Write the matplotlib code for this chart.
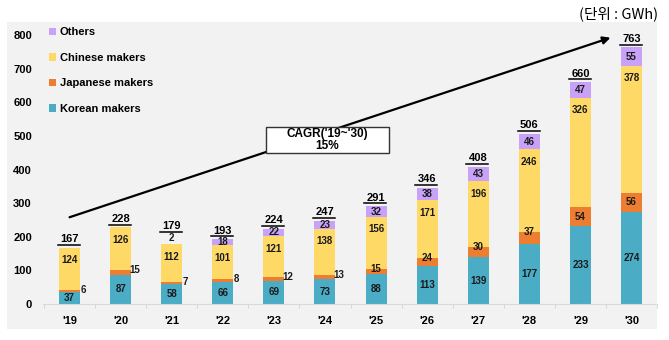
import matplotlib
matplotlib.use("Agg")
import matplotlib.pyplot as plt
import matplotlib.transforms as mtransforms
from matplotlib.patches import Patch, Rectangle
import numpy as np

plt.rcParams['font.family'] = ['Liberation Sans', 'DejaVu Sans']

years = ["'19", "'20", "'21", "'22", "'23", "'24", "'25", "'26", "'27", "'28", "'29", "'30"]
korean = [37, 87, 58, 66, 69, 73, 88, 113, 139, 177, 233, 274]
japanese = [6, 15, 7, 8, 12, 13, 15, 24, 30, 37, 54, 56]
chinese = [124, 126, 112, 101, 121, 138, 156, 171, 196, 246, 326, 378]
others = [0, 0, 2, 18, 22, 23, 32, 38, 43, 46, 47, 55]
totals = [167, 228, 179, 193, 224, 247, 291, 346, 408, 506, 660, 763]
cagr_text = "CAGR('19~'30)\n15%"
unit_text = "(단위 : GWh)"

c_kor = '#4bacc6'
c_jap = '#ed7d31'
c_chn = '#ffd966'
c_oth = '#c8a2f8'

fig = plt.figure(figsize=(6.69, 3.40), dpi=100)
fig.patch.set_facecolor('white')
# light gray panel behind the whole chart
fig.add_artist(Rectangle((7 / 669, 1 - 329 / 340), 650 / 669, 307 / 340,
                         transform=fig.transFigure, facecolor='#f2f2f2',
                         edgecolor='none', zorder=-10))

ax = fig.add_axes([43 / 669, 1 - 304 / 340, 614 / 669, 269 / 340])
ax.set_facecolor('none')

x = np.arange(len(years))
w = 0.41
kor = np.array(korean)
jap = np.array(japanese)
chn = np.array(chinese)
oth = np.array(others)

ax.bar(x, kor, w, color=c_kor, zorder=2)
ax.bar(x, jap, w, bottom=kor, color=c_jap, zorder=2)
ax.bar(x, chn, w, bottom=kor + jap, color=c_chn, zorder=2)
ax.bar(x, oth, w, bottom=kor + jap + chn, color=c_oth, zorder=2)

lab = dict(fontsize=7, fontweight='bold', color='#1a1a1a', zorder=5)

for i in range(len(years)):
    # korean: centred in segment
    ax.text(x[i], kor[i] / 2, str(korean[i]), ha='center', va='center', **lab)
    # japanese: beside the bar when thin, inside otherwise
    top_j = kor[i] + jap[i]
    if i < 6:
        ax.text(x[i] + 0.27, top_j, str(japanese[i]), ha='center', va='center', **lab)
    else:
        yj = top_j if japanese[i] < 50 else kor[i] + jap[i] / 2
        ax.text(x[i], yj, str(japanese[i]), ha='center', va='center', **lab)
    # chinese: near the top of its segment
    top_c = top_j + chn[i]
    ax.annotate(str(chinese[i]), (x[i], top_c), xytext=(0, -9),
                textcoords='offset points', ha='center', va='center', **lab)
    # others
    if others[i] > 0:
        if others[i] < 5:
            ax.annotate(str(others[i]), (x[i], top_c + oth[i]), xytext=(0, 4),
                        textcoords='offset points', ha='center', va='center', **lab)
        else:
            ax.text(x[i], top_c + oth[i] / 2, str(others[i]),
                    ha='center', va='center', **lab)

# underlined totals above each bar
for i in range(len(years)):
    lift = 8.5 if 0 < others[i] < 5 else 2.0
    shift = mtransforms.ScaledTranslation(0, lift / 72, fig.dpi_scale_trans)
    ax.plot([x[i] - 0.23, x[i] + 0.2], [totals[i], totals[i]], color='black',
            lw=1.1, transform=ax.transData + shift, clip_on=False, zorder=5)
    ax.annotate(str(totals[i]), (x[i], totals[i]), xytext=(0, lift + 0.5),
                textcoords='offset points', ha='center', va='bottom',
                fontsize=8, fontweight='bold', color='black', clip_on=False)

# CAGR arrow and box
ax.annotate('', xy=(10.59, 792), xytext=(0, 258),
            arrowprops=dict(arrowstyle='-|>', color='black', lw=1.6,
                            mutation_scale=11, shrinkA=0, shrinkB=0),
            annotation_clip=False, zorder=3)
ax.add_patch(Rectangle((3.85, 449), 2.41, 78, facecolor='white',
                       edgecolor='#333333', lw=1, zorder=4))
ax.text(5.05, 488, cagr_text, ha='center', va='center', fontsize=8.5,
        fontweight='bold', linespacing=1.0, zorder=6)

ax.set_xlim(-0.52, 11.41)
ax.set_ylim(0, 800)
ax.set_yticks(range(0, 801, 100))
ax.set_xticks(x)
ax.set_xticklabels(years)
ax.set_xticks(np.arange(-0.5, 11.6, 1), minor=True)
ax.tick_params(axis='y', length=0, pad=8, labelsize=8)
ax.tick_params(axis='x', which='major', length=0, pad=9, labelsize=8)
ax.tick_params(axis='x', which='minor', length=3, color='#d0d0d0')
for t in ax.get_xticklabels() + ax.get_yticklabels():
    t.set_fontweight('bold')
for s in ['top', 'right', 'left']:
    ax.spines[s].set_visible(False)
ax.spines['bottom'].set_color('#d9d9d9')

handles = [Patch(facecolor=c_oth), Patch(facecolor=c_chn),
           Patch(facecolor=c_jap), Patch(facecolor=c_kor)]
names = ['Others', 'Chinese makers', 'Japanese makers', 'Korean makers']
fig.legend(handles, names, loc='upper left', bbox_to_anchor=(0.0725, 0.92),
           frameon=False, handlelength=0.65, handleheight=0.65, handletextpad=0.35,
           labelspacing=1.4, borderpad=0, borderaxespad=0,
           prop={'weight': 'bold', 'size': 8})

fig.text(658 / 669, 1 - 14 / 340, unit_text, ha='right', va='center',
         fontsize=10.5, family=['Noto Sans CJK KR', 'DejaVu Sans'])

fig.savefig('out.png', dpi=100)
